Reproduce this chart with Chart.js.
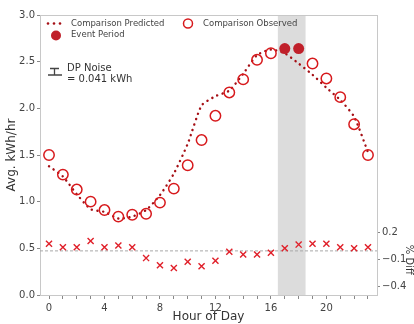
<!DOCTYPE html>
<html>
<head>
<meta charset="utf-8">
<script src="https://cdn.jsdelivr.net/npm/chart.js@4/dist/chart.umd.min.js"></script>
<style>
  html, body { margin: 0; padding: 0; background: #fff; }
  #wrap { width: 414px; height: 324px; }
</style>
</head>
<body>
<div id="wrap"><canvas id="chart" width="414" height="324"></canvas></div>
<script>
// hours of the day
const hours = [0, 1, 2, 3, 4, 5, 6, 7, 8, 9, 10, 11, 12, 13, 14, 15, 16, 17, 18, 19, 20, 21, 22, 23];

// comparison predicted (kWh/hr)
const predicted = [1.38, 1.27, 1.08, 0.92, 0.89, 0.82, 0.84, 0.91, 1.07, 1.30, 1.62, 2.03, 2.13, 2.19, 2.37, 2.57, 2.63, 2.59, 2.48, 2.36, 2.22, 2.09, 1.91, 1.53];

// comparison observed (kWh/hr), event hours shown separately
const observed = [1.50, 1.29, 1.13, 1.00, 0.91, 0.84, 0.86, 0.87, 0.99, 1.14, 1.39, 1.66, 1.92, 2.17, 2.31, 2.52, 2.59, null, null, 2.48, 2.32, 2.12, 1.83, 1.50];

// event period
const eventHours = [17, 18];
const eventValues = [2.64, 2.64];
const eventBand = [16.5, 18.5];

// percent difference (secondary axis)
const pctDiff = [0.08, 0.04, 0.04, 0.11, 0.04, 0.06, 0.04, -0.08, -0.16, -0.19, -0.12, -0.17, -0.11, -0.01, -0.04, -0.04, -0.02, 0.03, 0.07, 0.08, 0.08, 0.04, 0.03, 0.04];

const yTicks = [0, 0.5, 1, 1.5, 2, 2.5, 3];
const diffTicks = [-0.4, -0.1, 0.2];

const font = "'DejaVu Sans', sans-serif";
const tickColor = '#444';
const spine = '#c8c8c8';

const toPts = (xs, ys) => xs.map((x, i) => ({ x: x, y: ys[i] }));

// background band, zero line, top spine, legend and noise note
const decor = {
    id: 'decor',
    beforeDatasetsDraw(chart) {
        const { ctx, chartArea: a, scales } = chart;
        const x0 = scales.x.getPixelForValue(eventBand[0]);
        const x1 = scales.x.getPixelForValue(eventBand[1]);
        ctx.save();
        ctx.fillStyle = '#dcdcdc';
        ctx.fillRect(x0, a.top, x1 - x0, a.bottom - a.top);
        const yz = scales.y2.getPixelForValue(0);
        ctx.strokeStyle = '#a8a8a8';
        ctx.lineWidth = 1;
        ctx.setLineDash([3, 2]);
        ctx.beginPath();
        ctx.moveTo(a.left, yz);
        ctx.lineTo(a.right, yz);
        ctx.stroke();
        ctx.restore();
    },
    afterDraw(chart) {
        const { ctx, chartArea: a, scales } = chart;
        ctx.save();
        ctx.strokeStyle = spine;
        ctx.lineWidth = 1;
        ctx.beginPath();
        ctx.moveTo(a.left, a.top + 0.5);
        ctx.lineTo(a.right, a.top + 0.5);
        ctx.stroke();

        // legend
        ctx.font = '8.5px ' + font;
        ctx.textBaseline = 'middle';
        ctx.fillStyle = '#a50f15';
        [48, 54, 60].forEach(px => {
            ctx.beginPath();
            ctx.arc(px, 23.5, 1.3, 0, Math.PI * 2);
            ctx.fill();
        });
        ctx.fillStyle = '#444';
        ctx.fillText('Comparison Predicted', 71, 23.5);
        ctx.fillText('Event Period', 71, 35);
        ctx.fillText('Comparison Observed', 203, 23.5);
        ctx.strokeStyle = '#d7191c';
        ctx.lineWidth = 1.5;
        ctx.beginPath();
        ctx.arc(188, 23.5, 4.5, 0, Math.PI * 2);
        ctx.stroke();
        ctx.fillStyle = '#c0202a';
        ctx.beginPath();
        ctx.arc(56, 35.5, 5, 0, Math.PI * 2);
        ctx.fill();

        // noise note
        ctx.strokeStyle = '#444';
        ctx.lineWidth = 1.3;
        ctx.beginPath();
        ctx.moveTo(50, 68.5); ctx.lineTo(59, 68.5);
        ctx.moveTo(54.5, 68.5); ctx.lineTo(54.5, 75);
        ctx.moveTo(48, 75); ctx.lineTo(62, 75);
        ctx.stroke();
        ctx.font = '10px ' + font;
        ctx.fillStyle = '#333';
        ctx.fillText('DP Noise', 67, 68);
        ctx.fillText('= 0.041 kWh', 67, 79);

        // secondary axis title, centred on its ticks
        const yc = (scales.y2.getPixelForValue(diffTicks[0]) + scales.y2.getPixelForValue(diffTicks[2])) / 2;
        ctx.translate(409, yc);
        ctx.rotate(Math.PI / 2);
        ctx.textAlign = 'center';
        ctx.font = '10px ' + font;
        ctx.fillText('% Diff', 0, 0);
        ctx.restore();
    }
};

const ctx = document.getElementById('chart').getContext('2d');
new Chart(ctx, {
    type: 'scatter',
    data: {
        datasets: [
            {
                label: 'Comparison Predicted',
                type: 'line',
                data: toPts(hours, predicted),
                borderColor: '#a50f15',
                borderWidth: 2.4,
                borderDash: [0.1, 5.5],
                borderCapStyle: 'round',
                pointRadius: 0,
                tension: 0.2,
                fill: false,
                yAxisID: 'y',
                order: 3
            },
            {
                label: 'Comparison Observed',
                data: toPts(hours, observed),
                pointStyle: 'circle',
                pointRadius: 5.2,
                borderColor: '#d7191c',
                backgroundColor: 'rgba(255,255,255,0)',
                borderWidth: 1.5,
                yAxisID: 'y',
                order: 2
            },
            {
                label: 'Event Period',
                data: toPts(eventHours, eventValues),
                pointStyle: 'circle',
                pointRadius: 5.5,
                borderWidth: 0,
                backgroundColor: '#c0202a',
                yAxisID: 'y',
                order: 1
            },
            {
                label: '% Diff',
                data: toPts(hours, pctDiff),
                pointStyle: 'crossRot',
                pointRadius: 4.3,
                borderColor: '#e0202a',
                borderWidth: 1.4,
                yAxisID: 'y2',
                order: 4
            }
        ]
    },
    options: {
        responsive: false,
        animation: false,
        layout: { padding: { top: 15, left: 0, right: 0, bottom: 0 } },
        plugins: {
            legend: { display: false },
            tooltip: { enabled: false }
        },
        scales: {
            x: {
                type: 'linear',
                min: -0.65,
                max: 23.65,
                afterBuildTicks: s => { s.ticks = hours.map(h => ({ value: h })); },
                afterFit: s => { s.height = 29; },
                ticks: {
                    callback: v => (v % 4 === 0 ? String(v) : ''),
                    color: tickColor,
                    font: { family: font, size: 10 },
                    padding: 3,
                    maxRotation: 0,
                    autoSkip: false
                },
                grid: { drawOnChartArea: false, tickLength: 4, color: '#888' },
                border: { color: spine },
                title: {
                    display: true,
                    text: 'Hour of Day',
                    color: '#333',
                    font: { family: font, size: 12 },
                    padding: { top: 0, bottom: 0 }
                }
            },
            y: {
                position: 'left',
                min: 0,
                max: 3,
                afterBuildTicks: s => { s.ticks = yTicks.map(v => ({ value: v })); },
                afterFit: s => { s.width = 40; },
                ticks: {
                    callback: v => v.toFixed(1),
                    color: tickColor,
                    font: { family: font, size: 10 },
                    padding: 2
                },
                grid: { drawOnChartArea: false, tickLength: 3, color: '#888' },
                border: { color: spine },
                title: {
                    display: true,
                    text: 'Avg. kWh/hr',
                    color: '#333',
                    font: { family: font, size: 12 },
                    padding: { top: 5, bottom: 0 }
                }
            },
            y2: {
                position: 'right',
                min: -0.49,
                max: 2.62,
                afterBuildTicks: s => { s.ticks = diffTicks.map(v => ({ value: v })); },
                afterFit: s => { s.width = 37; },
                ticks: {
                    callback: v => (v < 0 ? '\u2212' + Math.abs(v).toFixed(1) : v.toFixed(1)),
                    color: tickColor,
                    font: { family: font, size: 10 },
                    padding: 2
                },
                grid: { drawOnChartArea: false, tickLength: 3, color: '#888' },
                border: { color: spine }
            }
        }
    },
    plugins: [decor]
});
</script>
</body>
</html>
